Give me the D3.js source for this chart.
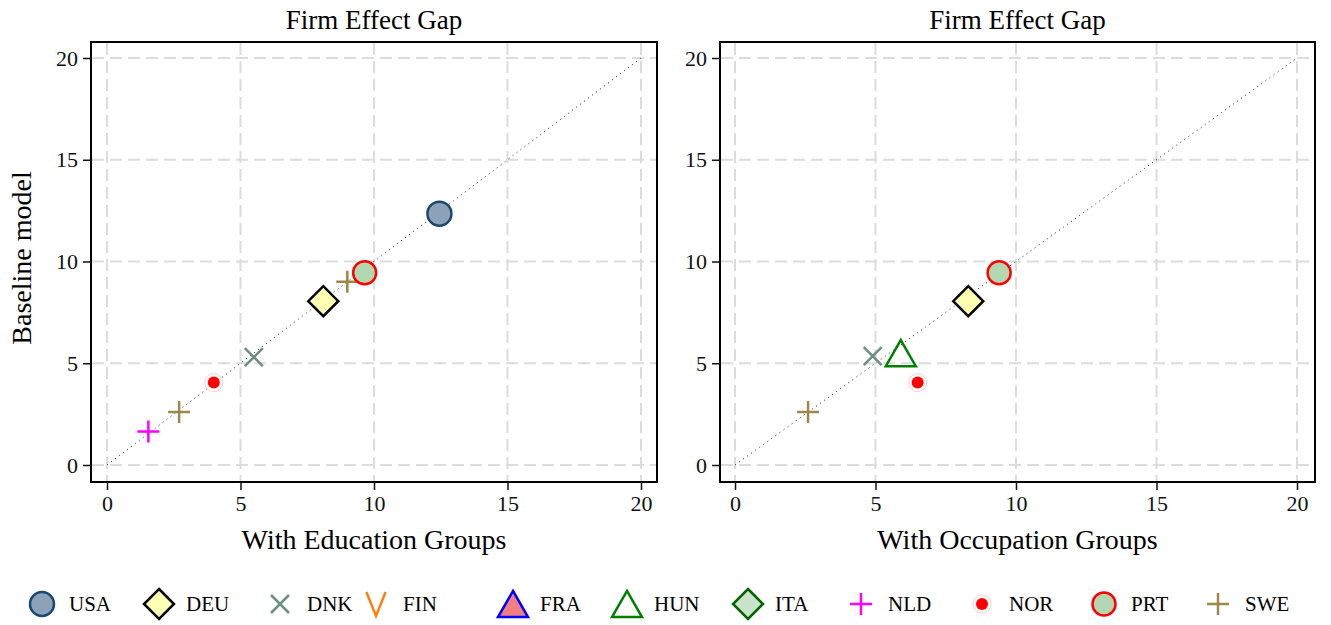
<!DOCTYPE html>
<meta charset="utf-8">
<title>Firm Effect Gap</title>
<style>
body { margin: 0; background: #fff; }
svg { font-family: "Liberation Serif", "DejaVu Serif", serif; }
.grid line { stroke: #dcdcdc; stroke-width: 2; stroke-dasharray: 12 6; }
.tick line { stroke: #111; stroke-width: 1.5; }
.domain { display: none; }
</style>
<script src="https://d3js.org/d3.v7.min.js"></script>
<body>
<script>
var width = 1331, height = 625;

// legend order
var countries = ["USA", "DEU", "DNK", "FIN", "FRA", "HUN", "ITA", "NLD", "NOR", "PRT", "SWE"];
var ticks = [0, 5, 10, 15, 20];

// left panel: with education groups
var eduCountry = ["NLD", "SWE", "NOR", "DNK", "DEU", "SWE", "PRT", "USA"];
var eduX = [1.55, 2.7, 4.0, 5.5, 8.1, 9.0, 9.65, 12.45];
var eduY = [1.65, 2.6, 4.05, 5.3, 8.05, 9.0, 9.45, 12.35];

// right panel: with occupation groups
var occCountry = ["SWE", "DNK", "HUN", "NOR", "DEU", "PRT"];
var occX = [2.6, 4.9, 5.9, 6.5, 8.3, 9.4];
var occY = [2.6, 5.35, 5.5, 4.05, 8.05, 9.45];

// marker look per country
var style = {
  USA: {shape: "circle", fill: "#8da2b8", stroke: "#1a476f", size: 12, sw: 2.5},
  DEU: {shape: "diamond", fill: "#ffffb4", stroke: "#000", size: 15, sw: 2.5},
  DNK: {shape: "x", fill: "none", stroke: "#6e8e84", size: 9, sw: 2.5},
  FIN: {shape: "v", fill: "none", stroke: "#ff7f0e", size: 12, sw: 2.5},
  FRA: {shape: "triangle", fill: "#f08080", stroke: "#0000ff", size: 15, sw: 2.5},
  HUN: {shape: "triangle", fill: "none", stroke: "#008000", size: 15, sw: 2.5},
  ITA: {shape: "diamond", fill: "#c9e3c9", stroke: "#006400", size: 15, sw: 2.5},
  NLD: {shape: "plus", fill: "none", stroke: "#ff00ff", size: 11, sw: 2.5},
  NOR: {shape: "dot", fill: "#ff0000", stroke: "#ffcccc", size: 6, sw: 1},
  PRT: {shape: "circle", fill: "#b2d8b2", stroke: "#ff0000", size: 11.5, sw: 2.5},
  SWE: {shape: "plus", fill: "none", stroke: "#9c8847", size: 11, sw: 2.5}
};

function markerPath(shape, s) {
  if (shape === "circle" || shape === "dot")
    return "M" + s + ",0A" + s + "," + s + " 0 1,1 " + (-s) + ",0A" + s + "," + s + " 0 1,1 " + s + ",0Z";
  if (shape === "diamond") return "M0," + (-s) + "L" + s + ",0L0," + s + "L" + (-s) + ",0Z";
  if (shape === "triangle") { var h = s * 0.87; return "M0," + (-h) + "L" + s + "," + h + "L" + (-s) + "," + h + "Z"; }
  if (shape === "x") return "M" + (-s) + "," + (-s) + "L" + s + "," + s + "M" + s + "," + (-s) + "L" + (-s) + "," + s;
  if (shape === "plus") return "M" + (-s) + ",0L" + s + ",0M0," + (-s) + "L0," + s;
  if (shape === "v") return "M" + (-s * 0.8) + "," + (-s) + "L0," + s + "L" + (s * 0.8) + "," + (-s);
}

function drawMarker(g, c, x, y) {
  var st = style[c];
  var m = g.append("g").attr("transform", "translate(" + x + "," + y + ")");
  if (st.shape === "dot") {
    m.append("circle").attr("r", st.size + 3).attr("fill", "#fff").attr("stroke", st.stroke).attr("stroke-width", 1);
    m.append("circle").attr("r", st.size).attr("fill", st.fill);
    return;
  }
  m.append("path").attr("d", markerPath(st.shape, st.size))
    .attr("fill", st.fill).attr("stroke", st.stroke).attr("stroke-width", st.sw)
    .attr("stroke-linejoin", "miter");
}

var svg = d3.select("body").append("svg")
    .attr("width", width).attr("height", height);

var panels = [
  {left: 91, right: 657, x0: 107, x20: 641, xlab: "With Education Groups", c: eduCountry, xs: eduX, ys: eduY},
  {left: 720, right: 1315, x0: 735, x20: 1297, xlab: "With Occupation Groups", c: occCountry, xs: occX, ys: occY}
];
var plotTop = 42, plotBottom = 482;

function styleAxis(a) {
  a.attr("font-family", "Liberation Serif, serif").attr("font-size", 22);
  a.selectAll("text").attr("fill", "#111");
}

panels.forEach(function(p, i) {
  var x = d3.scaleLinear().domain([0, 20]).range([p.x0, p.x20]);
  var y = d3.scaleLinear().domain([0, 20]).range([465, 58]);
  var g = svg.append("g");

  // grid
  var grid = g.append("g").attr("class", "grid");
  grid.selectAll("line.v").data(ticks).enter().append("line")
    .attr("x1", x).attr("x2", x).attr("y1", plotTop + 1).attr("y2", plotBottom - 1);
  grid.selectAll("line.h").data(ticks).enter().append("line")
    .attr("y1", y).attr("y2", y).attr("x1", p.left + 1).attr("x2", p.right - 1);

  // 45 degree line
  g.append("line")
    .attr("x1", x(0)).attr("y1", y(0)).attr("x2", x(20)).attr("y2", y(20))
    .attr("stroke", "#222").attr("stroke-width", 1).attr("stroke-dasharray", "1 4");

  // frame
  g.append("rect").attr("x", p.left).attr("y", plotTop)
    .attr("width", p.right - p.left).attr("height", plotBottom - plotTop)
    .attr("fill", "none").attr("stroke", "#000").attr("stroke-width", 2);

  // axes
  g.append("g").attr("transform", "translate(0," + plotBottom + ")")
    .call(d3.axisBottom(x).tickValues(ticks).tickSize(8).tickPadding(5))
    .call(styleAxis);
  g.append("g").attr("transform", "translate(" + p.left + ",0)")
    .call(d3.axisLeft(y).tickValues(ticks).tickSize(8).tickPadding(5))
    .call(styleAxis);

  // titles
  g.append("text").attr("x", (p.left + p.right) / 2).attr("y", 29)
    .attr("text-anchor", "middle").attr("font-size", 27).text("Firm Effect Gap");
  g.append("text").attr("x", (p.left + p.right) / 2).attr("y", 549)
    .attr("text-anchor", "middle").attr("font-size", 28).text(p.xlab);
  if (i === 0) {
    g.append("text").attr("transform", "translate(31,258) rotate(-90)")
      .attr("text-anchor", "middle").attr("font-size", 28).text("Baseline model");
  }

  // points
  p.c.forEach(function(c, k) { drawMarker(g, c, x(p.xs[k]), y(p.ys[k])); });
});

// legend
var legX = [42, 159, 280, 376, 513, 627, 748, 861, 982, 1104, 1218];
var leg = svg.append("g");
countries.forEach(function(c, k) {
  drawMarker(leg, c, legX[k], 604);
  leg.append("text").attr("x", legX[k] + 27).attr("y", 611)
    .attr("font-size", 21).text(c);
});
</script>
</body>
